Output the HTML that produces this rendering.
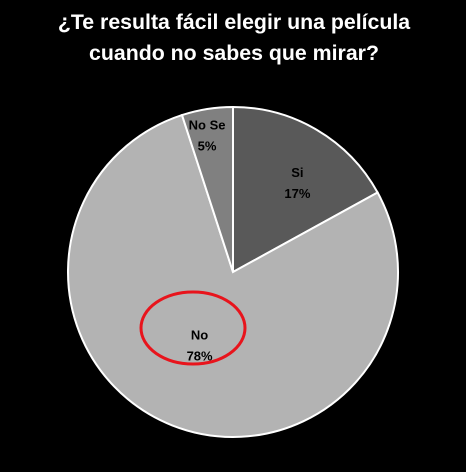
<!DOCTYPE html>
<html><head><meta charset="utf-8"><style>
body{margin:0;background:#000;}
svg{display:block;font-family:"Liberation Sans",sans-serif;}
</style></head><body>
<svg id="c" width="466" height="472">
<text x="234" y="29" text-anchor="middle" fill="#fff" font-size="21.3" font-weight="bold">¿Te resulta fácil elegir una película</text>
<text x="234" y="60" text-anchor="middle" fill="#fff" font-size="21.3" font-weight="bold">cuando no sabes que mirar?</text>
<g id="slices"></g>
<g id="labels"></g>
<ellipse cx="193" cy="328" rx="52" ry="36" fill="none" stroke="#e8141c" stroke-width="3"/>
</svg>
<script>
const categories=["Si","No","No Se"];
const values=[17,78,5];
const colors=["#595959","#b3b3b3","#808080"];
const labelShift=[[14,-6],[0,-13],[-4,0]];
const cx=233,cy=272,r=165;
const ns="http://www.w3.org/2000/svg";
const total=values.reduce((a,b)=>a+b,0);
const sg=document.getElementById("slices"),lg=document.getElementById("labels");
function pt(a,rr){return [cx+rr*Math.sin(a),cy-rr*Math.cos(a)];}
let acc=0;
values.forEach((v,i)=>{
  const a0=acc/total*2*Math.PI; acc+=v; const a1=acc/total*2*Math.PI;
  const p0=pt(a0,r),p1=pt(a1,r);
  const p=document.createElementNS(ns,"path");
  p.setAttribute("d",`M${cx},${cy}L${p0[0]},${p0[1]}A${r},${r} 0 ${a1-a0>Math.PI?1:0} 1 ${p1[0]},${p1[1]}Z`);
  p.setAttribute("fill",colors[i]);p.setAttribute("stroke","#fff");p.setAttribute("stroke-width","2");
  
  
  sg.appendChild(p);
  const am=(a0+a1)/2, rr=v<10?r*0.85:(v>50?r*0.55:r*0.6);
  const lp=pt(am,rr);
  [categories[i],Math.round(v/total*100)+"%"].forEach((s,j)=>{
    const t=document.createElementNS(ns,"text");
    t.setAttribute("x",lp[0]+labelShift[i][0]);t.setAttribute("y",lp[1]-4+j*21+labelShift[i][1]);
    t.setAttribute("text-anchor","middle");t.setAttribute("font-size","13");t.setAttribute("font-weight","bold");
    t.textContent=s;
    
    
    lg.appendChild(t);
  });
});
</script>
</body></html>
